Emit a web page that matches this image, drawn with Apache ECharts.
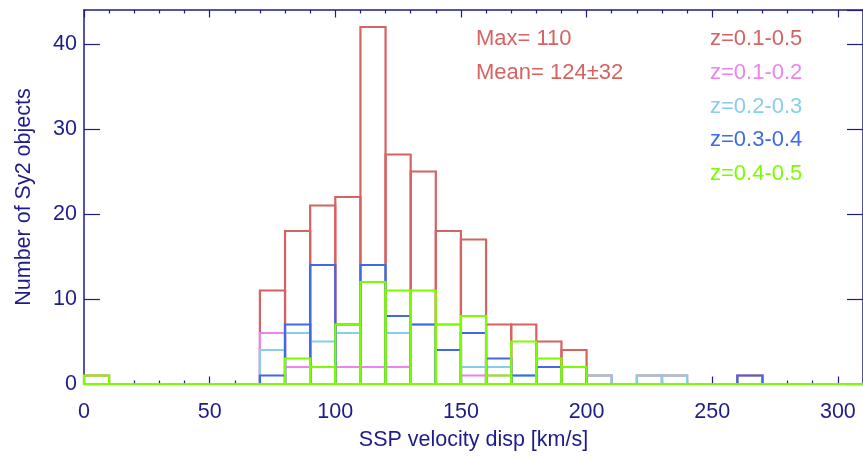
<!DOCTYPE html>
<html>
<head>
<meta charset="utf-8">
<script src="https://cdn.jsdelivr.net/npm/echarts@6/dist/echarts.min.js"></script>
<style>
html,body{margin:0;padding:0;background:#fff;}
#chart{width:863px;height:460px;}
</style>
</head>
<body>
<div id="chart"></div>
<script>
// Bin left edges (km/s), bin width 10
const binLeft = [0,10,20,30,40,50,60,70,80,90,100,110,120,130,140,150,160,170,180,190,200,210,220,230,240,250,260,270,280,290,300];
const binWidth = 10;
// Counts per bin
const zAll = [1,0,0,0,0,0,0,11,18,21,22,42,27,25,18,17,7,7,5,4,1,0,1,1,0,0,1,0,0,0,0];
const z12  = [0,0,0,0,0,0,0,6,2,0,2,2,2,0,0,1,1,0,0,0,0,0,0,0,0,0,0,0,0,0,0];
const z23  = [0,0,0,0,0,0,0,4,6,5,6,14,6,7,7,2,2,1,0,0,1,0,1,1,0,0,0,0,0,0,0];
const z34  = [0,0,0,0,0,0,0,1,7,14,7,14,8,7,4,6,3,1,2,2,0,0,0,0,0,0,1,0,0,0,0];
const z45  = [1,0,0,0,0,0,0,0,3,2,7,12,11,11,7,8,1,5,3,2,0,0,0,0,0,0,0,0,0,0,0];
const seriesLabels = ['z=0.1-0.5','z=0.1-0.2','z=0.2-0.3','z=0.3-0.4','z=0.4-0.5'];
const statLabels = ['Max= 110','Mean= 124\u00B132'];
const xTitle = 'SSP velocity disp [km/s]';
const yTitle = 'Number of Sy2 objects';

const colors = ['#d66262','#ee82ee','#87ceeb','#4169e1','#7cfc00'];
const axisColor = '#1c1c8a';
const font = '"Liberation Sans", Arial, Helvetica, sans-serif';

const chart = echarts.init(document.getElementById('chart'), null, {renderer:'canvas'});
const allSeries = [zAll, z12, z23, z34, z45];

const xCommon = {
  type:'value', min:0, max:310, interval:50,
  axisLine:{show:true, onZero:false, lineStyle:{color:axisColor, width:1.5}},
  splitLine:{show:false},
  minorTick:{show:true, splitNumber:5, length:3.5, lineStyle:{color:axisColor, width:1.2}},
  axisTick:{show:true, inside:true, length:7.5, lineStyle:{color:axisColor, width:1.2}},
};
const yCommon = {
  type:'value', min:0, max:44, interval:10,
  axisLine:{show:true, onZero:false, lineStyle:{color:axisColor, width:1.5}},
  splitLine:{show:false},
  axisTick:{show:true, inside:true, length:16, lineStyle:{color:axisColor, width:1.2}},
};

const graphic = [];
statLabels.forEach((t,i)=>{
  graphic.push({type:'text', x:476, y:39 + i*34, style:{text:t, fill:colors[0], font:'22px '+font, verticalAlign:'middle'}});
});
seriesLabels.forEach((t,i)=>{
  graphic.push({type:'text', x:710, y:39 + i*33.8, style:{text:t, fill:colors[i], font:'22px '+font, verticalAlign:'middle'}});
});

function makeRender(color){
  return function(params, api){
    const x0 = api.value(0), v = api.value(1);
    const pTop = api.coord([x0, v]);
    const pBot = api.coord([x0 + binWidth, 0]);
    return {
      type:'rect',
      shape:{x:pTop[0], y:pTop[1], width:pBot[0]-pTop[0], height:pBot[1]-pTop[1]},
      style:{fill:'none', stroke:color, lineWidth:2.2}
    };
  };
}

chart.setOption({
  animation:false,
  backgroundColor:'#ffffff',
  grid:{left:84, right:-4, top:10, bottom:76, containLabel:false},
  xAxis:[
    Object.assign({}, xCommon, {position:'bottom',
      name:xTitle, nameLocation:'middle', nameGap:45,
      nameTextStyle:{color:axisColor, fontSize:21.5, fontFamily:font},
      axisLabel:{show:true, margin:17, color:axisColor, fontSize:21.5, fontFamily:font, showMaxLabel:false}}),
    Object.assign({}, xCommon, {position:'top', axisLabel:{show:false}})
  ],
  yAxis:[
    Object.assign({}, yCommon, {position:'left',
      name:yTitle, nameLocation:'middle', nameGap:49, nameRotate:90,
      nameTextStyle:{color:axisColor, fontSize:21.5, fontFamily:font},
      axisLabel:{show:true, margin:7, color:axisColor, fontSize:21.5, fontFamily:font, showMaxLabel:false}}),
    Object.assign({}, yCommon, {position:'right', axisLabel:{show:false}})
  ],
  graphic: graphic,
  series: allSeries.map((vals,i)=>({
    name: seriesLabels[i], type:'custom',
    xAxisIndex:0, yAxisIndex:0,
    renderItem: makeRender(colors[i]),
    encode:{x:0, y:1},
    data: binLeft.map((x,k)=>[x, vals[k]]),
    z: 2 + i,
    clip:false
  }))
});
</script>
</body>
</html>
